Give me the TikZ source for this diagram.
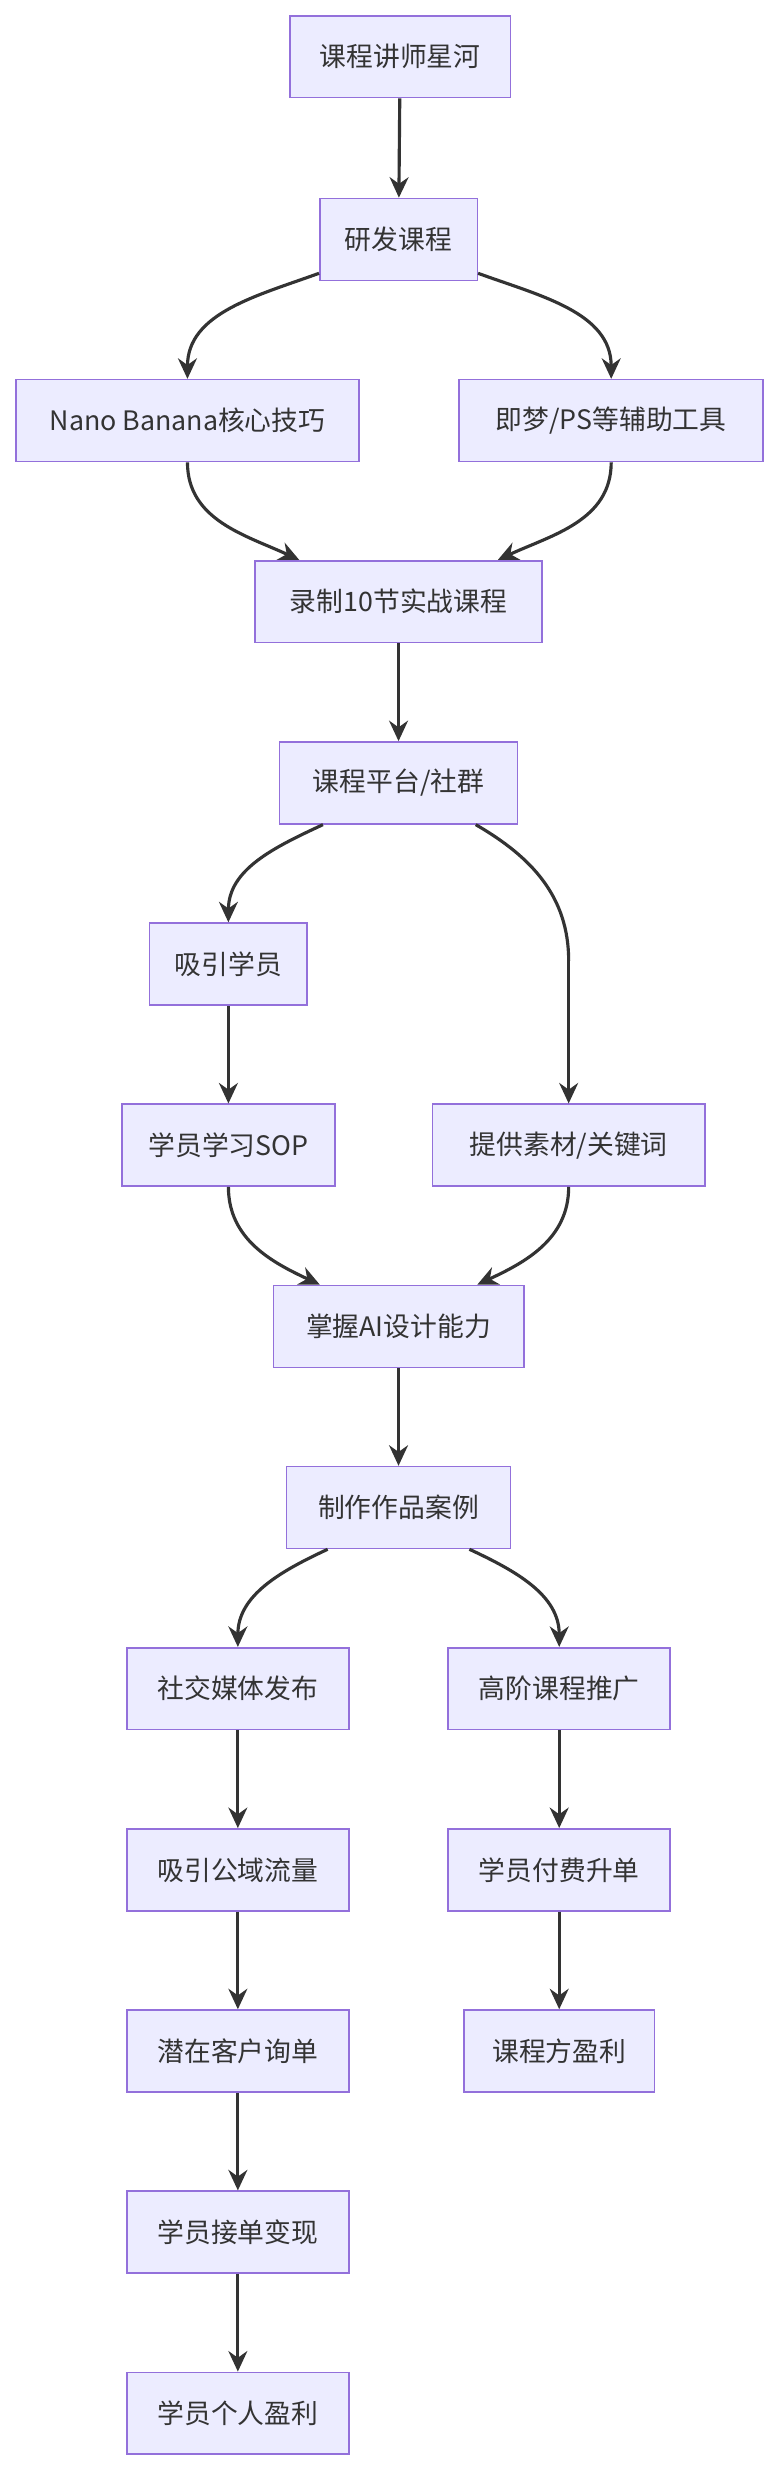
\documentclass[tikz,border=0pt]{standalone}
\usepackage{fontspec}
\setmainfont{Noto Sans CJK SC}
\usetikzlibrary{arrows.meta}
\definecolor{boxfill}{HTML}{ECECFF}
\definecolor{boxline}{HTML}{9370DB}
\definecolor{edgeline}{HTML}{333333}
\tikzset{
  box/.style={draw=boxline, fill=boxfill, line width=1pt, minimum height=52pt, inner xsep=10pt, font=\fontsize{17pt}{20pt}\selectfont, text=edgeline},
  flow/.style={draw=edgeline, line width=2pt, -{Stealth[length=13pt,width=12pt]}}
}
\begin{document}
\begin{tikzpicture}[x=1pt,y=-1pt]
  \useasboundingbox (0,0) rectangle (496,1568);
  % nodes
  \node[box, minimum width=140pt] (js) at (254,36) {课程讲师星河};
  \node[box, minimum width=100pt] (yf) at (253,152) {研发课程};
  \node[box, minimum width=218pt] (nano) at (119,267) {Nano Banana核心技巧};
  \node[box, minimum width=193pt] (jm) at (388,267) {即梦/PS等辅助工具};
  \node[box, minimum width=182pt] (lz) at (253,382) {录制10节实战课程};
  \node[box, minimum width=151pt] (pt) at (253,497) {课程平台/社群};
  \node[box, minimum width=100pt] (xy) at (145,612) {吸引学员};
  \node[box, minimum width=135pt] (sop) at (145,727) {学员学习SOP};
  \node[box, minimum width=173pt] (tg) at (361,727) {提供素材/关键词};
  \node[box, minimum width=159pt] (zw) at (253,842) {掌握AI设计能力};
  \node[box, minimum width=142pt] (zp) at (253,957) {制作作品案例};
  \node[box, minimum width=141pt] (sj) at (151,1072) {社交媒体发布};
  \node[box, minimum width=141pt] (gj) at (355,1072) {高阶课程推广};
  \node[box, minimum width=141pt] (gy) at (151,1187) {吸引公域流量};
  \node[box, minimum width=141pt] (ff) at (355,1187) {学员付费升单};
  \node[box, minimum width=141pt] (xd) at (151,1302) {潜在客户询单};
  \node[box, minimum width=121pt] (yl) at (355,1302) {课程方盈利};
  \node[box, minimum width=141pt] (jd) at (151,1417) {学员接单变现};
  \node[box, minimum width=141pt] (gr) at (151,1532) {学员个人盈利};
  \coordinate (tgbend) at (361,610);
  % edges
  \draw[flow] (js) -- (yf);
  \draw[flow] (yf.south west) ++(0,-5) to[out=200,in=90] (nano.north);
  \draw[flow] (yf.south east) ++(0,-5) to[out=-20,in=90] (jm.north);
  \draw[flow] (nano.south) to[out=-90,in=155] ([xshift=-63pt]lz.north);
  \draw[flow] (jm.south) to[out=-90,in=25] ([xshift=63pt]lz.north);
  \draw[flow] (lz) -- (pt);
  \draw[flow] ([xshift=-48pt]pt.south) to[out=205,in=90] (xy.north);
  \draw[flow, -] ([xshift=49pt]pt.south) to[out=-30,in=90] (tgbend);
  \draw[flow] (tgbend) -- (tg.north);
  \draw[flow] (xy) -- (sop);
  \draw[flow] (sop.south) to[out=-90,in=155] ([xshift=-50pt]zw.north);
  \draw[flow] (tg.south) to[out=-90,in=25] ([xshift=50pt]zw.north);
  \draw[flow] (zw) -- (zp);
  \draw[flow] ([xshift=-45pt]zp.south) to[out=205,in=90] (sj.north);
  \draw[flow] ([xshift=45pt]zp.south) to[out=-25,in=90] (gj.north);
  \draw[flow] (sj) -- (gy);
  \draw[flow] (gy) -- (xd);
  \draw[flow] (xd) -- (jd);
  \draw[flow] (jd) -- (gr);
  \draw[flow] (gj) -- (ff);
  \draw[flow] (ff) -- (yl);
\end{tikzpicture}
\end{document}
